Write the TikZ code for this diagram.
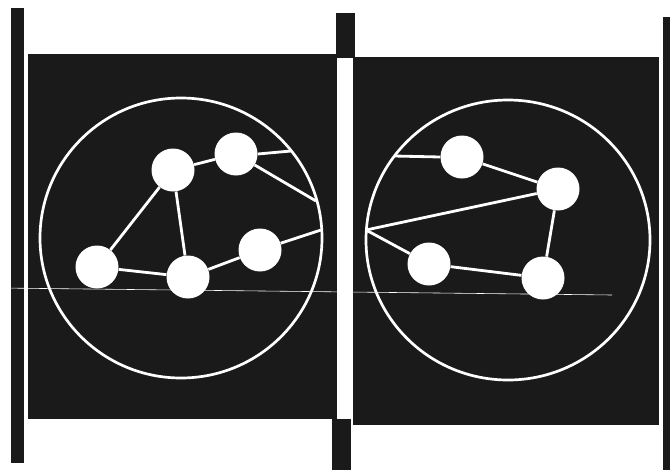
\documentclass[tikz,border=0pt]{standalone}
\usepackage{tikz}
\usetikzlibrary{positioning}
\definecolor{plateDark}{HTML}{1A1A1A}

\begin{document}
\begin{tikzpicture}[
    x=0.03cm, y=-0.03cm,
    plate/.style={fill=plateDark, draw=none},
    ball/.style={circle, fill=white, inner sep=0pt, minimum size=1.29cm},
    ring/.style={draw=white, line width=2.3pt},
    link/.style={draw=white, line width=2.4pt},
    fold/.style={draw=white, line width=0.5pt}
]
    \fill[white] (0,0) rectangle (670,470);
    \useasboundingbox (0,0) rectangle (670,470);

    % strips
    \fill[plate] (11,8) rectangle (24,463);
    \fill[plate] (336,13) rectangle (355,58);
    \fill[plate] (332,419) rectangle (351,470);
    \fill[plate] (663,17) rectangle (670,470);

    % the two plates
    \fill[plate] (28,54) rectangle (337,419);
    \fill[plate] (353,57) rectangle (659,425);

    \draw[ring] (181,238) ellipse [x radius=141, y radius=140];
    \draw[ring] (508,240) ellipse [x radius=142, y radius=140];

    % left group
    \node[ball] (a) at (173,170) {};
    \node[ball] (b) at (236,154) {};
    \node[ball] (c) at (97,267) {};
    \node[ball] (d) at (188,277) {};
    \node[ball] (e) at (260,250) {};
    \coordinate (rimB) at (291,151);
    \coordinate (rimBB) at (316,201);
    \coordinate (rimE) at (321,230);

    % right group
    \node[ball] (f) at (462,157) {};
    \node[ball] (g) at (558,189) {};
    \node[ball] (h) at (429,264) {};
    \node[ball] (i) at (543,278) {};
    \coordinate (rimF) at (394,156);
    \coordinate (rimG) at (366,230);

    \draw[link] (a) -- (b);
    \draw[link] (a) -- (c);
    \draw[link] (a) -- (d);
    \draw[link] (c) -- (d);
    \draw[link] (d) -- (e);
    \draw[link] (b.east) -- (rimB);
    \draw[link] (b) -- (rimBB);
    \draw[link] (e) -- (rimE);

    \draw[link] (f.west) -- (rimF);
    \draw[link] (f) -- (g);
    \draw[link] (g) -- (i);
    \draw[link] (h) -- (i);
    \draw[link] (g) -- (rimG);
    \draw[link] (h) -- (rimG);

    % crease across the sheet
    \coordinate (foldL) at (0,288);
    \coordinate (foldR) at (612,295);
    \draw[fold] (foldL) -- (foldR);
\end{tikzpicture}
\end{document}
